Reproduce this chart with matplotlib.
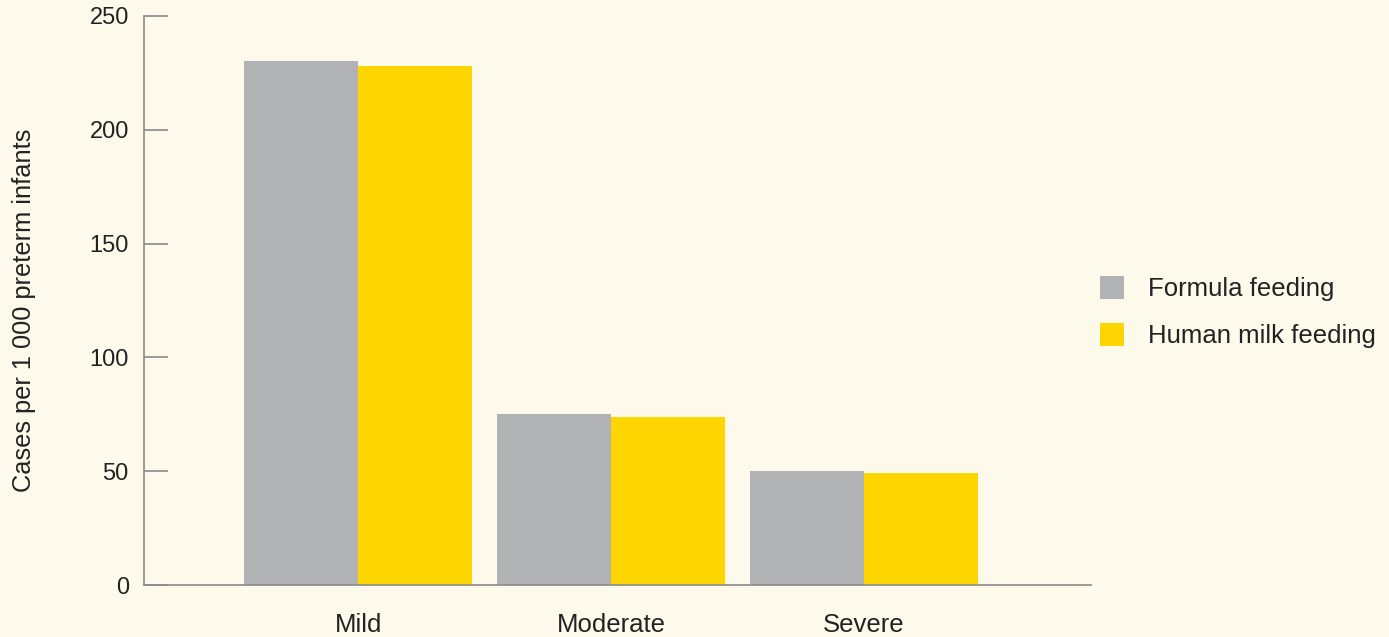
import numpy as np
import matplotlib.pyplot as plt
from matplotlib.patches import Patch

categories = ['Mild', 'Moderate', 'Severe']
formula = [230, 75, 50]
human_milk = [228, 74, 49]
series_names = ['Formula feeding', 'Human milk feeding']
y_ticks = [0, 50, 100, 150, 200, 250]

bg = '#fdfaec'
grey = '#b1b2b4'
yellow = '#ffd500'

plt.rcParams['font.family'] = ['Liberation Sans', 'DejaVu Sans']

fig = plt.figure(figsize=(13.89, 6.37), dpi=100, facecolor=bg)
ax = fig.add_axes([0.1037, 0.0816, 0.6818, 0.8934])
ax.set_facecolor(bg)

x = np.arange(len(categories))
w = 0.45
ax.bar(x - w / 2, formula, width=w, color=grey, edgecolor='none')
ax.bar(x + w / 2, human_milk, width=w, color=yellow, edgecolor='none')

ax.set_xlim(-0.846, 2.897)
ax.set_ylim(0, 250)
ax.set_yticks(y_ticks)
ax.set_xticks(x)
ax.set_xticklabels(categories)

for s in ['top', 'right']:
    ax.spines[s].set_visible(False)
for s in ['left', 'bottom']:
    ax.spines[s].set_color('#8a8a8a')
    ax.spines[s].set_linewidth(1.2)

ax.tick_params(axis='y', direction='in', length=17, width=1.2, color='#8a8a8a',
               pad=11, labelsize=17, labelcolor='#222222')
ax.tick_params(axis='x', length=0, pad=20, labelsize=18.5, labelcolor='#222222')
ax.set_ylabel('Cases per 1 000 preterm infants', fontsize=18.3, color='#222222')
ax.yaxis.set_label_coords(-0.114, 0.483)

handles = [Patch(facecolor=grey, edgecolor='none'), Patch(facecolor=yellow, edgecolor='none')]
fig.legend(handles, series_names, loc='center left', bbox_to_anchor=(0.775, 0.51),
           frameon=False, fontsize=18.5, handlelength=0.95, handleheight=1.0,
           handletextpad=0.95, labelspacing=0.85, labelcolor='#222222')

fig.savefig('out.png', dpi=100, facecolor=bg)
